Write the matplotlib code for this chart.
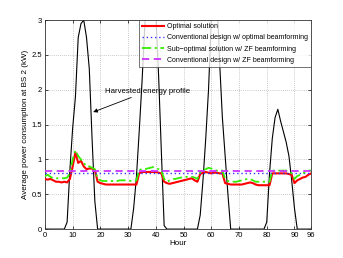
import numpy as np
import matplotlib
matplotlib.use("Agg")
import matplotlib.pyplot as plt

plt.rcParams['font.family'] = ['Liberation Sans', 'DejaVu Sans']

hours = list(range(97))

harvested = [0]*8 + [0.1, 0.85, 1.45, 1.9, 2.75, 2.95, 3.0, 2.75, 2.3, 1.3, 0.4, 0.0] \
    + [0]*12 + [0.3, 0.75, 1.4, 2.1, 2.9, 3.6, 3.9, 3.8, 3.1, 2.2, 1.1, 0.05] \
    + [0]*12 + [0.2, 0.7, 1.3, 2.0, 3.0, 3.6, 3.4, 2.4, 1.6, 1.05, 0.5, 0.0] \
    + [0]*12 + [0.1, 0.8, 1.3, 1.6, 1.72, 1.55, 1.4, 1.25, 1.05, 0.7, 0.3, 0.0] \
    + [0]*5

optimal = [0.72, 0.71, 0.72, 0.70, 0.68, 0.68, 0.67, 0.68, 0.67, 0.72,
           0.90, 1.10, 0.95, 0.98, 0.90, 0.86, 0.87, 0.87, 0.85, 0.68,
           0.66, 0.65, 0.64, 0.64, 0.64, 0.64, 0.64, 0.64, 0.64, 0.64,
           0.64, 0.64, 0.64, 0.64, 0.80, 0.82, 0.82, 0.82, 0.82, 0.82,
           0.82, 0.81, 0.80, 0.68, 0.66, 0.65, 0.66, 0.67, 0.68, 0.69,
           0.70, 0.71, 0.72, 0.73, 0.70, 0.68, 0.79, 0.81, 0.82, 0.81,
           0.80, 0.81, 0.81, 0.80, 0.80, 0.66, 0.65, 0.64, 0.64, 0.64,
           0.64, 0.64, 0.65, 0.66, 0.67, 0.66, 0.64, 0.63, 0.63, 0.63,
           0.63, 0.63, 0.80, 0.80, 0.80, 0.80, 0.80, 0.80, 0.79, 0.78,
           0.66, 0.70, 0.72, 0.74, 0.75, 0.78, 0.80]

suboptimal = [0.76, 0.78, 0.75, 0.73, 0.73, 0.73, 0.73, 0.73, 0.74, 0.80,
              1.00, 1.13, 1.05, 1.00, 0.95, 0.90, 0.90, 0.88, 0.86, 0.72,
              0.70, 0.69, 0.69, 0.69, 0.69, 0.69, 0.69, 0.70, 0.70, 0.70,
              0.70, 0.69, 0.69, 0.70, 0.85, 0.86, 0.86, 0.87, 0.88, 0.89,
              0.88, 0.86, 0.84, 0.72, 0.68, 0.70, 0.72, 0.72, 0.73, 0.74,
              0.74, 0.75, 0.75, 0.75, 0.74, 0.72, 0.82, 0.85, 0.86, 0.88,
              0.87, 0.85, 0.84, 0.85, 0.84, 0.72, 0.69, 0.68, 0.68, 0.68,
              0.69, 0.70, 0.71, 0.72, 0.72, 0.70, 0.68, 0.68, 0.68, 0.68,
              0.68, 0.68, 0.84, 0.84, 0.84, 0.84, 0.84, 0.84, 0.83, 0.80,
              0.72, 0.76, 0.78, 0.80, 0.82, 0.84, 0.84]

conv_opt = [0.80]*97
conv_zf = [0.84]*97

xticks = [0, 10, 20, 30, 40, 50, 60, 70, 80, 90, 96]
yticks = [0, 0.5, 1, 1.5, 2, 2.5, 3]

fig = plt.figure(figsize=(3.43, 2.58), dpi=100)
ax = fig.add_axes([0.131, 0.112, 0.776, 0.810])

ax.plot(hours, harvested, color='black', lw=0.8, zorder=2)
ax.plot(hours, optimal, color='#ff0000', lw=1.5, label='Optimal solution', zorder=3)
ax.plot(hours, conv_opt, color='#3333ff', lw=1.0, ls=(0, (1, 2)),
        label='Conventional design w/ optimal beamforming', zorder=3)
ax.plot(hours, suboptimal, color='#33ee00', lw=1.3, ls=(0, (5, 2, 1.2, 2)),
        label='Sub\u2212optimal solution w/ ZF beamforming', zorder=3)
ax.plot(hours, conv_zf, color='#cc33ff', lw=1.3, ls=(0, (4, 2.5)),
        label='Conventional design w/ ZF beamforming', zorder=3)

ax.set_xlim(0, 96)
ax.set_ylim(0, 3)
ax.set_xticks(xticks)
ax.set_yticks(yticks)
ax.set_xticklabels([str(t) for t in xticks])
ax.set_yticklabels(['0', '0.5', '1', '1.5', '2', '2.5', '3'])
ax.tick_params(labelsize=5.5, direction='in', length=2, width=0.5, pad=2,
               top=True, right=True)
ax.grid(True, ls=(0, (1, 2)), color='#999999', lw=0.5)
for s in ax.spines.values():
    s.set_linewidth(0.6)
    s.set_color('#333333')

ax.set_xlabel('Hour', fontsize=5.8, labelpad=1)
ax.set_ylabel('Average power consumption at BS 2 (kW)', fontsize=5.8, labelpad=2)

ax.annotate('Harvested energy profile', xy=(17.4, 1.68), xytext=(21.7, 1.98),
            fontsize=5.6, va='center', ha='left',
            arrowprops=dict(arrowstyle='-|>', color='black', lw=0.6,
                            mutation_scale=6, shrinkA=0, shrinkB=0))

leg = ax.legend(loc='upper right', fontsize=5.0, frameon=True, fancybox=False,
                edgecolor='#333333', borderpad=0.45, labelspacing=0.6,
                handlelength=3.2, borderaxespad=0, handletextpad=0.4)
leg.get_frame().set_linewidth(0.6)

fig.savefig('out.png', dpi=100)
